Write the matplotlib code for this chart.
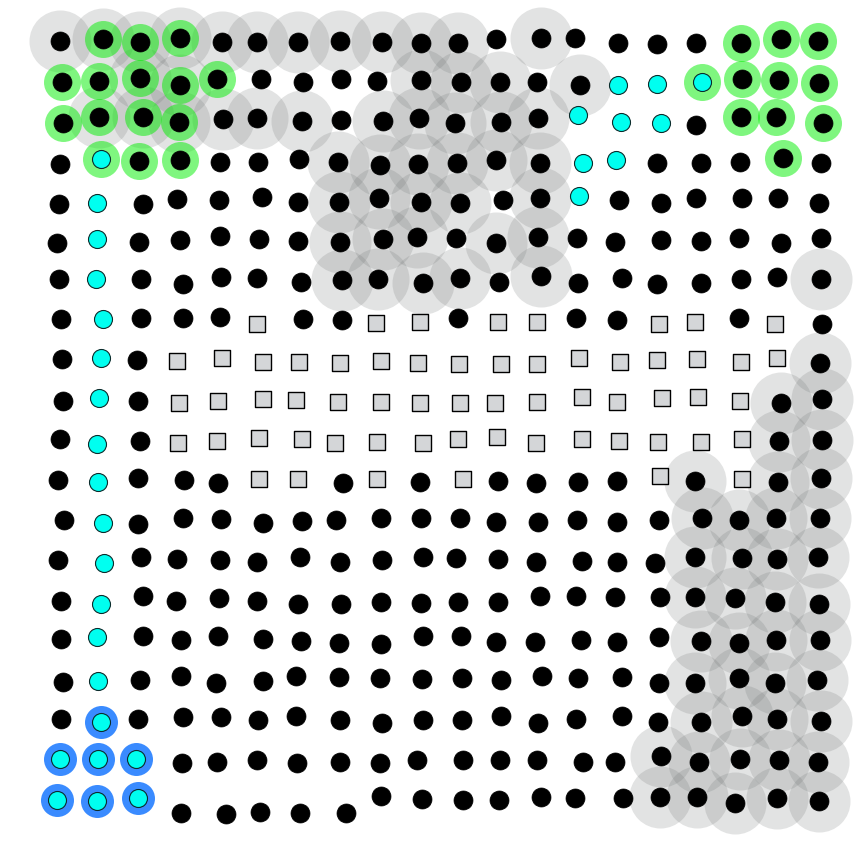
import numpy as np
import matplotlib
matplotlib.use("Agg")
import matplotlib.pyplot as plt

# point positions per row (pixel space, y downwards)
row_x = [
    [60, 103, 140, 180, 222, 257, 298, 340, 382, 421, 458, 496, 541, 575, 618, 657, 696, 741, 781, 818],
    [62, 99, 140, 180, 217, 261, 303, 341, 377, 421, 461, 500, 537, 580, 618, 657, 702, 742, 779, 819],
    [63, 99, 143, 179, 223, 257, 302, 341, 383, 419, 455, 501, 538, 578, 621, 661, 696, 741, 776, 823],
    [60, 101, 139, 180, 220, 258, 299, 338, 380, 418, 457, 496, 540, 583, 616, 657, 701, 740, 783, 821],
    [59, 97, 143, 177, 219, 262, 298, 339, 379, 421, 460, 503, 540, 579, 619, 661, 696, 742, 778, 819],
    [57, 97, 139, 180, 220, 259, 298, 340, 383, 417, 456, 496, 538, 577, 615, 661, 701, 739, 781, 821],
    [59, 96, 141, 183, 221, 257, 301, 342, 378, 423, 460, 499, 541, 578, 622, 657, 701, 741, 777, 821],
    [61, 103, 141, 183, 220, 257, 303, 342, 376, 420, 458, 498, 537, 576, 617, 659, 695, 739, 775, 822],
    [62, 101, 137, 177, 222, 263, 299, 340, 381, 418, 459, 501, 537, 579, 620, 657, 697, 741, 777, 820],
    [63, 99, 138, 179, 218, 263, 296, 338, 381, 420, 460, 495, 537, 582, 617, 662, 698, 740, 781, 822],
    [60, 97, 140, 178, 217, 259, 302, 335, 377, 423, 458, 497, 536, 582, 619, 658, 701, 742, 779, 822],
    [58, 98, 138, 184, 218, 259, 298, 343, 377, 420, 463, 498, 536, 578, 617, 660, 695, 742, 778, 821],
    [64, 103, 138, 183, 221, 263, 302, 336, 381, 421, 460, 496, 538, 577, 617, 659, 702, 739, 776, 820],
    [58, 104, 141, 177, 220, 257, 300, 340, 382, 423, 456, 498, 536, 582, 617, 655, 695, 742, 777, 818],
    [61, 101, 143, 176, 219, 257, 298, 341, 381, 421, 458, 498, 540, 576, 615, 660, 695, 735, 775, 819],
    [61, 97, 143, 181, 218, 263, 301, 339, 381, 423, 461, 496, 535, 581, 617, 659, 701, 739, 776, 820],
    [63, 98, 140, 181, 216, 263, 296, 339, 380, 422, 462, 501, 542, 578, 622, 659, 695, 739, 775, 817],
    [61, 101, 138, 183, 221, 258, 296, 340, 382, 423, 462, 501, 538, 576, 622, 658, 701, 742, 777, 821],
    [60, 98, 136, 182, 217, 257, 297, 340, 380, 417, 463, 500, 537, 583, 615, 661, 699, 740, 779, 818],
    [57, 97, 138, 181, 226, 260, 300, 346, 381, 422, 463, 499, 541, 575, 623, 660, 697, 735, 777, 819],
]
row_y = [
    [41, 39, 42, 38, 42, 42, 42, 41, 42, 43, 43, 39, 38, 38, 43, 44, 43, 43, 39, 41],
    [82, 81, 78, 85, 79, 79, 82, 79, 81, 80, 82, 82, 82, 85, 85, 84, 82, 79, 80, 83],
    [123, 117, 117, 122, 119, 118, 121, 120, 121, 118, 123, 122, 118, 115, 122, 123, 125, 117, 117, 123],
    [164, 159, 161, 160, 162, 162, 159, 162, 165, 164, 163, 160, 163, 163, 160, 163, 163, 162, 158, 163],
    [204, 203, 204, 199, 200, 197, 202, 202, 198, 202, 203, 200, 198, 196, 200, 203, 198, 198, 198, 203],
    [243, 239, 242, 240, 236, 239, 241, 242, 239, 237, 238, 243, 237, 238, 242, 240, 241, 238, 243, 238],
    [279, 279, 279, 284, 277, 278, 282, 280, 279, 283, 278, 282, 276, 283, 278, 284, 283, 279, 277, 279],
    [319, 319, 318, 318, 317, 324, 319, 320, 323, 322, 318, 322, 322, 318, 320, 324, 322, 318, 324, 324],
    [359, 358, 360, 361, 358, 362, 362, 363, 361, 363, 364, 364, 364, 358, 362, 360, 359, 362, 358, 363],
    [401, 398, 401, 403, 401, 399, 400, 402, 402, 403, 403, 403, 402, 397, 402, 398, 397, 401, 403, 399],
    [439, 444, 441, 443, 441, 438, 439, 443, 442, 443, 439, 437, 443, 439, 441, 442, 442, 439, 441, 440],
    [480, 482, 478, 480, 483, 479, 479, 483, 479, 482, 479, 481, 483, 482, 481, 476, 481, 479, 482, 478],
    [520, 523, 524, 518, 519, 523, 521, 520, 518, 518, 518, 522, 522, 520, 522, 520, 518, 520, 518, 518],
    [560, 563, 557, 559, 560, 562, 557, 562, 560, 557, 558, 559, 562, 561, 562, 563, 557, 558, 559, 557],
    [601, 604, 596, 601, 598, 601, 604, 604, 602, 603, 602, 602, 596, 596, 597, 597, 597, 598, 602, 604],
    [639, 637, 636, 640, 636, 639, 641, 643, 644, 636, 636, 642, 642, 640, 642, 637, 641, 643, 640, 640],
    [682, 681, 680, 676, 683, 681, 676, 677, 678, 679, 678, 680, 676, 678, 677, 683, 683, 678, 683, 680],
    [719, 722, 719, 717, 717, 720, 716, 720, 723, 720, 720, 716, 723, 719, 716, 722, 722, 716, 719, 721],
    [759, 759, 759, 763, 762, 760, 763, 762, 763, 760, 760, 760, 760, 762, 762, 756, 762, 759, 760, 762],
    [800, 801, 798, 813, 814, 812, 813, 813, 796, 799, 800, 800, 797, 798, 798, 797, 797, 803, 798, 801],
]

# b = black dot, c = cyan dot, s = grey square
cell_type = [
    "bbbbbbbbbbbbbbbbbbbb",
    "bbbbbbbbbbbbbbcccbbb",
    "bbbbbbbbbbbbbcccbbbb",
    "bcbbbbbbbbbbbccbbbbb",
    "bcbbbbbbbbbbbcbbbbbb",
    "bcbbbbbbbbbbbbbbbbbb",
    "bcbbbbbbbbbbbbbbbbbb",
    "bcbbbsbbssbssbbssbsb",
    "bcbssssssssssssssssb",
    "bcbsssssssssssssssbb",
    "bcbsssssssssssssssbb",
    "bcbbbssbsbsbbbbsbsbb",
    "bcbbbbbbbbbbbbbbbbbb",
    "bcbbbbbbbbbbbbbbbbbb",
    "bcbbbbbbbbbbbbbbbbbb",
    "bcbbbbbbbbbbbbbbbbbb",
    "bcbbbbbbbbbbbbbbbbbb",
    "bcbbbbbbbbbbbbbbbbbb",
    "cccbbbbbbbbbbbbbbbbb",
    "cccbbbbbbbbbbbbbbbbb",
]

# grey halo (g)
grey_halo = [
    "ggggggggggg.g.......",
    "..gg.....ggg.g......",
    ".gggggg.ggggg.......",
    ".......gggggg.......",
    ".......gggg.g.......",
    ".......ggg.gg.......",
    ".......gggg.g......g",
    "....................",
    "...................g",
    "..................gg",
    "..................gg",
    "................g.gg",
    "................gggg",
    "................gggg",
    "................gggg",
    "................gggg",
    "................gggg",
    "................gggg",
    "...............ggggg",
    "...............ggggg",
]

# coloured rings: G = green, B = blue
ring = [
    ".GGG.............GGG",
    "GGGGG...........GGGG",
    "GGGG.............GGG",
    ".GGG..............G.",
    "....................",
    "....................",
    "....................",
    "....................",
    "....................",
    "....................",
    "....................",
    "....................",
    "....................",
    "....................",
    "....................",
    "....................",
    "....................",
    ".B..................",
    "BBB.................",
    "BBB.................",
]

W, H, DPI = 863, 842, 100
px = 72.0 / DPI  # pixel -> points


def size(d):
    return (d * px) ** 2


def pick(grid, code):
    xs, ys = [], []
    for r in range(len(grid)):
        for c, ch in enumerate(grid[r]):
            if ch == code:
                xs.append(row_x[r][c])
                ys.append(row_y[r][c])
    return np.array(xs), np.array(ys)


fig = plt.figure(figsize=(W / DPI, H / DPI), dpi=DPI)
ax = fig.add_axes([0, 0, 1, 1])
ax.set_xlim(0, W)
ax.set_ylim(H, 0)
ax.axis("off")

# halos first
gx, gy = pick(grey_halo, "g")
ax.scatter(gx, gy, s=size(62), color="#6f7373", alpha=0.2, linewidths=0, zorder=1)

rx, ry = pick(ring, "G")
ax.scatter(rx, ry, s=size(37), color="#00ee00", alpha=0.5, linewidths=0, zorder=2)
rx, ry = pick(ring, "B")
ax.scatter(rx, ry, s=size(33), color="#3a8bff", linewidths=0, zorder=2)

# points
bx, by = pick(cell_type, "b")
ax.scatter(bx, by, s=size(19), color="black", linewidths=0.5, edgecolors="black", zorder=3)

cx, cy = pick(cell_type, "c")
ax.scatter(cx, cy, s=size(18), color="#00fff0", linewidths=0.8, edgecolors="#0b2b2b", zorder=3)

sx, sy = pick(cell_type, "s")
ax.scatter(sx, sy, s=size(16), marker="s", color="#d4d6d8", linewidths=1.0,
           edgecolors="black", zorder=3)

fig.savefig("out.png", dpi=DPI)
